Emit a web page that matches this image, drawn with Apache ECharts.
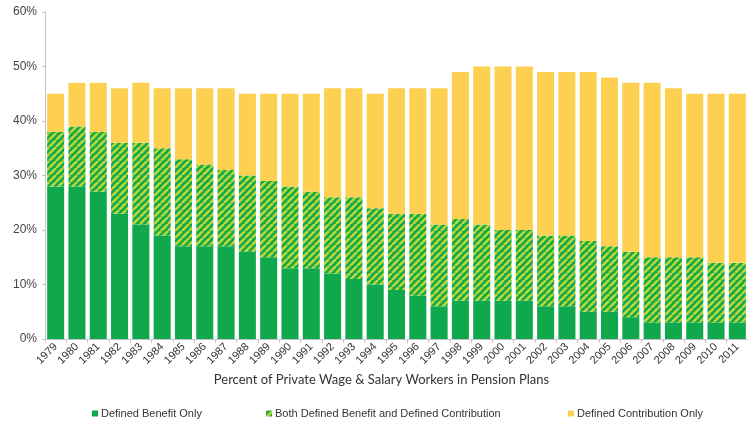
<!DOCTYPE html>
<html>
<head>
<meta charset="utf-8">
<script src="https://cdnjs.cloudflare.com/ajax/libs/echarts/6.0.0/echarts.min.js"></script>
<style>
  html, body { margin: 0; padding: 0; background: #fff; }
  #chart { width: 748px; height: 424px; }
</style>
</head>
<body>
<div id="chart"></div>
<script>
  var years = ['1979', '1980', '1981', '1982', '1983', '1984', '1985', '1986', '1987', '1988',
    '1989', '1990', '1991', '1992', '1993', '1994', '1995', '1996', '1997', '1998',
    '1999', '2000', '2001', '2002', '2003', '2004', '2005', '2006', '2007', '2008',
    '2009', '2010', '2011'];

  // cumulative levels (percent of workers)
  var dbOnly = [28, 28, 27, 23, 21, 19, 17, 17, 17, 16, 15, 13, 13, 12, 11, 10, 9, 8, 6, 7,
    7, 7, 7, 6, 6, 5, 5, 4, 3, 3, 3, 3, 3];
  var dbOrBoth = [38, 39, 38, 36, 36, 35, 33, 32, 31, 30, 29, 28, 27, 26, 26, 24, 23, 23, 21, 22,
    21, 20, 20, 19, 19, 18, 17, 16, 15, 15, 15, 14, 14];
  var anyPlan = [45, 47, 47, 46, 47, 46, 46, 46, 46, 45, 45, 45, 45, 46, 46, 45, 46, 46, 46, 49,
    50, 50, 50, 49, 49, 49, 48, 47, 47, 46, 45, 45, 45];

  var both = dbOrBoth.map(function (v, i) { return v - dbOnly[i]; });
  var dcOnly = anyPlan.map(function (v, i) { return v - dbOrBoth[i]; });

  var yTicks = [0, 10, 20, 30, 40, 50, 60];

  var GREEN = '#10a84c';
  var STRIPE = '#bcd836';
  var YELLOW = '#fdd052';
  var FONT = 'Arial, "Liberation Sans", sans-serif';

  // diagonal "/" hatch used for the "both" segment
  function stripePattern() {
    var c = document.createElement('canvas');
    var s = 7;
    c.width = s; c.height = s;
    var g = c.getContext('2d');
    g.fillStyle = GREEN;
    g.fillRect(0, 0, s, s);
    g.strokeStyle = STRIPE;
    g.lineWidth = 2.6;
    [-s, 0, s].forEach(function (o) {
      g.beginPath();
      g.moveTo(o, s);
      g.lineTo(o + s, 0);
      g.stroke();
    });
    return { image: c, repeat: 'repeat' };
  }

  var chart = echarts.init(document.getElementById('chart'), null, { renderer: 'canvas' });

  function legend(name, left) {
    return {
      data: [name],
      left: left,
      top: 408,
      itemWidth: 6,
      itemHeight: 6,
      icon: 'rect',
      itemGap: 0,
      padding: 0,
      textStyle: { fontFamily: FONT, fontSize: 11, color: '#333', padding: [0, 0, 0, -2] }
    };
  }

  chart.setOption({
    animation: false,
    backgroundColor: '#fff',
    grid: { left: 45, right: -8, top: 12, bottom: 85 },
    legend: [
      legend('Defined Benefit Only', 92),
      legend('Both Defined Benefit and Defined Contribution', 266),
      legend('Defined Contribution Only', 568)
    ],
    xAxis: {
      type: 'category',
      data: years,
      boundaryGap: true,
      name: 'Percent of Private Wage & Salary Workers in Pension Plans',
      nameLocation: 'middle',
      nameGap: 33,
      nameTextStyle: { fontFamily: 'Lato, "Open Sans", sans-serif', fontSize: 13, color: '#333', padding: [0, 30, 0, 0] },
      axisLine: { lineStyle: { color: '#c4c4c4', width: 1 } },
      axisTick: { show: true, length: 4, lineStyle: { color: '#dcbcc8' } },
      axisLabel: { rotate: 45, margin: 6, fontFamily: FONT, fontSize: 11, color: '#333', interval: 0 }
    },
    yAxis: {
      type: 'value',
      min: yTicks[0],
      max: yTicks[yTicks.length - 1],
      interval: 10,
      axisLine: { show: true, lineStyle: { color: '#c4c4c4', width: 1 } },
      axisTick: { show: true, length: 3, lineStyle: { color: '#c4c4c4' } },
      splitLine: { show: false },
      axisLabel: { fontFamily: FONT, fontSize: 12, color: '#444', margin: 8,
        formatter: function (v) { return v + '%'; } }
    },
    series: [
      { name: 'Defined Benefit Only', type: 'bar', stack: 'p', data: dbOnly,
        barCategoryGap: '20%', itemStyle: { color: GREEN } },
      { name: 'Both Defined Benefit and Defined Contribution', type: 'bar', stack: 'p', data: both,
        itemStyle: { color: stripePattern() } },
      { name: 'Defined Contribution Only', type: 'bar', stack: 'p', data: dcOnly,
        itemStyle: { color: YELLOW } }
    ]
  });
</script>
</body>
</html>
